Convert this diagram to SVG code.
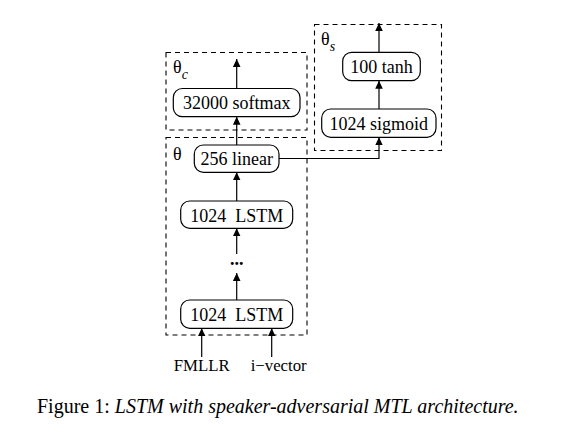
<svg xmlns="http://www.w3.org/2000/svg" width="577" height="446" viewBox="0 0 577 446">
<style>
.box{fill:#fff;stroke:#000;stroke-width:1.2}
.grp{fill:none;stroke:#000;stroke-width:1.1;stroke-dasharray:5 4}
.t{font-family:"Liberation Serif",serif;font-size:18px;fill:#000;text-anchor:middle;white-space:pre}
.in{font-family:"Liberation Serif",serif;font-size:16.8px;fill:#000;text-anchor:middle}
.c{fill:none;stroke:#000;stroke-width:1.2}
.cap{font-family:"Liberation Serif",serif;font-size:20px;fill:#000}
</style>
<defs>
<marker id="ah" viewBox="0 0 8 12" refX="8" refY="6" markerWidth="8" markerHeight="12" markerUnits="userSpaceOnUse" orient="auto">
<path d="M0,2.2 L8,6 L0,9.8 Z" fill="#000"/>
</marker>
</defs>
<g id="groups">
<rect class="grp" x="166" y="52.5" width="141" height="77.5"/>
<rect class="grp" x="166" y="137.5" width="141" height="197.5"/>
<rect class="grp" x="314.5" y="24.5" width="127" height="126"/>
<text x="173" y="73" style="font-family:'Liberation Serif',serif;font-size:18px">θ<tspan dy="6" font-size="14" font-style="italic">c</tspan></text>
<text x="173" y="160" style="font-family:'Liberation Serif',serif;font-size:18px">θ</text>
<text x="321" y="45" style="font-family:'Liberation Serif',serif;font-size:18px">θ<tspan dy="6" font-size="14" font-style="italic">s</tspan></text>
</g>
<g id="connectors">
<line class="c" x1="236.7" y1="88.5" x2="236.7" y2="59" marker-end="url(#ah)"/>
<line class="c" x1="236.7" y1="145" x2="236.7" y2="116.7" marker-end="url(#ah)"/>
<line class="c" x1="236.7" y1="201" x2="236.7" y2="172.3" marker-end="url(#ah)"/>
<line class="c" x1="236.7" y1="254" x2="236.7" y2="228.3" marker-end="url(#ah)"/>
<line class="c" x1="236.7" y1="300" x2="236.7" y2="273" marker-end="url(#ah)"/>
<line class="c" x1="201.7" y1="357" x2="201.7" y2="328.3" marker-end="url(#ah)"/>
<line class="c" x1="271.7" y1="357" x2="271.7" y2="328.3" marker-end="url(#ah)"/>
<line class="c" x1="379" y1="109" x2="379" y2="80.7" marker-end="url(#ah)"/>
<line class="c" x1="379" y1="52.3" x2="379" y2="23" marker-end="url(#ah)"/>
<polyline class="c" points="279,158.5 379,158.5 379,137.3" marker-end="url(#ah)"/>
</g>
<g id="n-softmax"><rect class="box" x="173.3" y="88.5" width="126.7" height="28.2" rx="9"/><text class="t" x="236.7" y="109">32000 softmax</text></g>
<g id="n-tanh"><rect class="box" x="342.7" y="52.3" width="77.6" height="28.4" rx="9"/><text class="t" x="381.5" y="73">100 tanh</text></g>
<g id="n-sigmoid"><rect class="box" x="321.7" y="109" width="114.3" height="28.3" rx="9"/><text class="t" x="378.8" y="130">1024 sigmoid</text></g>
<g id="n-linear"><rect class="box" x="194.3" y="145" width="84.7" height="27.3" rx="9"/><text class="t" x="236.7" y="165">256 linear</text></g>
<g id="n-lstm2"><rect class="box" x="180.7" y="201" width="112" height="27.3" rx="9"/><text class="t" x="236.7" y="221.5">1024  LSTM</text></g>
<g id="n-dots"><text class="t" x="236.7" y="265" style="font-weight:bold">...</text></g>
<g id="n-lstm1"><rect class="box" x="180.7" y="300" width="112" height="28.3" rx="9"/><text class="t" x="236.7" y="321">1024  LSTM</text></g>
<g id="n-fmllr"><text class="in" x="201.7" y="371">FMLLR</text></g>
<g id="n-ivector"><text class="in" x="278.7" y="371">i−vector</text></g>
<text class="cap" x="37" y="413">Figure 1: <tspan font-style="italic">LSTM with speaker-adversarial MTL architecture.</tspan></text>
</svg>
